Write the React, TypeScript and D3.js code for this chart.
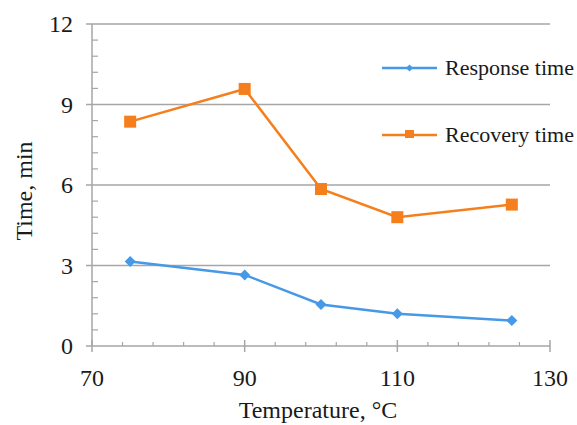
import React from "react";
import * as d3 from "d3";

const temperatures = [75, 90, 100, 110, 125];
const responseTime = [3.15, 2.65, 1.55, 1.2, 0.95];
const recoveryTime = [8.36, 9.58, 5.85, 4.8, 5.27];
const xTicks = [70, 90, 110, 130];
const yTicks = [0, 3, 6, 9, 12];
const seriesNames = ["Response time", "Recovery time"];

const W = 577, H = 425;
const BLUE = "#4699E6";
const ORANGE = "#F57F1C";
const GRID = "#A6A6A6";
const TEXT = "#1a1a1a";
const FONT = "'Times New Roman', 'Liberation Serif', 'DejaVu Serif', serif";

export default function App() {
  const x = d3.scaleLinear().domain([70, 130]).range([92, 550]);
  const y = d3.scaleLinear().domain([0, 12]).range([346, 24]);
  const line = d3.line<number>().x((_, i) => x(temperatures[i])).y((d) => y(d));

  const xMinor: number[] = [];
  for (let v = 70; v < 130; v += 4) if (!xTicks.includes(v)) xMinor.push(v);
  const yMinor: number[] = [];
  for (let v = 0; v < 12; v += 0.6) {
    const r = Math.round(v * 10) / 10;
    if (Math.abs(r % 3) > 0.01) yMinor.push(r);
  }

  const diamond = (cx: number, cy: number, s: number) =>
    `M${cx},${cy - s}L${cx + s},${cy}L${cx},${cy + s}L${cx - s},${cy}Z`;

  const ts = { fontFamily: FONT, fill: TEXT } as React.CSSProperties;

  return (
    <svg width={W} height={H} style={{ position: "absolute", left: 0, top: 0, background: "#fff", fontFamily: FONT }}>
      {yTicks.filter((t) => t > 0).map((t) => (
        <line key={t} x1={86} x2={550} y1={y(t)} y2={y(t)} stroke={GRID} strokeWidth={1.5} />
      ))}
      <line x1={x(70)} x2={x(70)} y1={y(12)} y2={y(0)} stroke={GRID} strokeWidth={1.5} />
      {yMinor.map((t) => (
        <line key={t} x1={x(70)} x2={x(70) + 6} y1={y(t)} y2={y(t)} stroke={GRID} strokeWidth={1.2} />
      ))}
      <line x1={86} x2={550} y1={y(0)} y2={y(0)} stroke={GRID} strokeWidth={1.5} />
      {xTicks.map((t) => (
        <line key={t} x1={x(t)} x2={x(t)} y1={y(0) - 6} y2={y(0) + 6} stroke={GRID} strokeWidth={1.5} />
      ))}
      {xMinor.map((t) => (
        <line key={t} x1={x(t)} x2={x(t)} y1={y(0) - 4} y2={y(0)} stroke={GRID} strokeWidth={1.2} />
      ))}
      {yTicks.map((t) => (
        <text key={t} x={73} y={y(t) + 8} textAnchor="end" fontSize={24} style={ts}>
          {t}
        </text>
      ))}
      {xTicks.map((t) => (
        <text key={t} x={x(t)} y={386} textAnchor="middle" fontSize={24} style={ts}>
          {t}
        </text>
      ))}
      <text x={318} y={418} textAnchor="middle" fontSize={24} style={ts}>
        Temperature, °C
      </text>
      <text transform={`translate(32,191) rotate(-90)`} textAnchor="middle" fontSize={24} style={ts}>
        Time, min
      </text>
      <path d={line(recoveryTime) || ""} fill="none" stroke={ORANGE} strokeWidth={2.5} />
      {recoveryTime.map((v, i) => (
        <rect key={i} x={x(temperatures[i]) - 6} y={y(v) - 6} width={12} height={12} fill={ORANGE} />
      ))}
      <path d={line(responseTime) || ""} fill="none" stroke={BLUE} strokeWidth={2.5} />
      {responseTime.map((v, i) => (
        <path key={i} d={diamond(x(temperatures[i]), y(v), 5.5)} fill={BLUE} />
      ))}
      <line x1={382} x2={437} y1={68} y2={68} stroke={BLUE} strokeWidth={2.5} />
      <path d={diamond(409.5, 68, 3.5)} fill={BLUE} />
      <text x={445} y={75} fontSize={22} style={ts}>
        {seriesNames[0]}
      </text>
      <line x1={382} x2={437} y1={135} y2={135} stroke={ORANGE} strokeWidth={2.5} />
      <rect x={405} y={130} width={9} height={8} fill={ORANGE} />
      <text x={445} y={142} fontSize={22} style={ts}>
        {seriesNames[1]}
      </text>
    </svg>
  );
}
